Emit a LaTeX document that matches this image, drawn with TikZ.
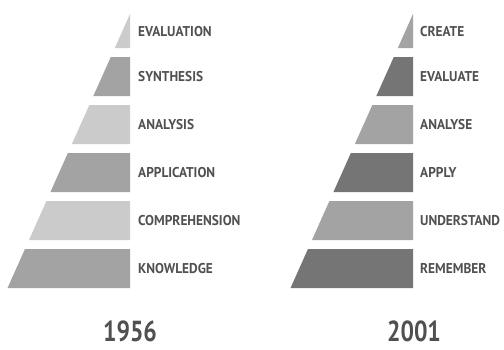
\documentclass[tikz,border=0pt]{standalone}
\usepackage{fontspec}
\newfontfamily\bloomfont[FakeStretch=0.94]{PT Sans}
\newfontfamily\yearfont[FakeStretch=0.82]{PT Sans}
\definecolor{bloomlight}{HTML}{CBCBCB}
\definecolor{bloommid}{HTML}{A3A3A3}
\definecolor{bloomdark}{HTML}{757575}
\definecolor{bloomtext}{HTML}{505050}

% one band of a pyramid: right x, top y, bottom y, colour
\newcommand{\bloomband}[4]{%
    \fill[#4] ({#1-0.447*(#2-14)},#2) -- (#1,#2) -- (#1,#3) -- ({#1-0.447*(#3-14)},#3) -- cycle;}

\tikzset{
    bloomlabel/.style={anchor=west, inner sep=0pt, text=bloomtext, font=\bloomfont\bfseries\fontsize{14.2}{14.2}\selectfont},
    yearlabel/.style={inner sep=0pt, text=bloomtext, font=\yearfont\bfseries\fontsize{29}{29}\selectfont}
}

\begin{document}
\begin{tikzpicture}[x=1pt, y=-1pt]
                \useasboundingbox (0,0) rectangle (504,349);

                % 1956 pyramid
                \bloomband{130}{14}{48}{bloomlight}
                \bloomband{130}{57}{96}{bloommid}
                \bloomband{130}{105}{144}{bloomlight}
                \bloomband{130}{153}{192}{bloommid}
                \bloomband{130}{201}{240}{bloomlight}
                \bloomband{130}{249}{288}{bloommid}

                \node[bloomlabel] (evaluation) at (138,31.5) {EVALUATION};
                \node[bloomlabel] (synthesis) at (138,76.5) {SYNTHESIS};
                \node[bloomlabel] (analysis) at (138,124.5) {ANALYSIS};
                \node[bloomlabel] (application) at (138,172.5) {APPLICATION};
                \node[bloomlabel] (comprehension) at (138,220.5) {COMPREHENSION};
                \node[bloomlabel] (knowledge) at (138,268.5) {KNOWLEDGE};

                \node[yearlabel] (year1956) at (130,331) {1956};

                % 2001 pyramid
                \bloomband{413}{14}{48}{bloommid}
                \bloomband{413}{57}{96}{bloomdark}
                \bloomband{413}{105}{144}{bloommid}
                \bloomband{413}{153}{192}{bloomdark}
                \bloomband{413}{201}{240}{bloommid}
                \bloomband{413}{249}{288}{bloomdark}

                \node[bloomlabel] (create) at (420,31.5) {CREATE};
                \node[bloomlabel] (evaluate) at (420,76.5) {EVALUATE};
                \node[bloomlabel] (analyse) at (420,124.5) {ANALYSE};
                \node[bloomlabel] (apply) at (420,172.5) {APPLY};
                \node[bloomlabel] (understand) at (420,220.5) {UNDERSTAND};
                \node[bloomlabel] (remember) at (420,268.5) {REMEMBER};

                \node[yearlabel] (year2001) at (414,331) {2001};
            \end{tikzpicture}
\end{document}
